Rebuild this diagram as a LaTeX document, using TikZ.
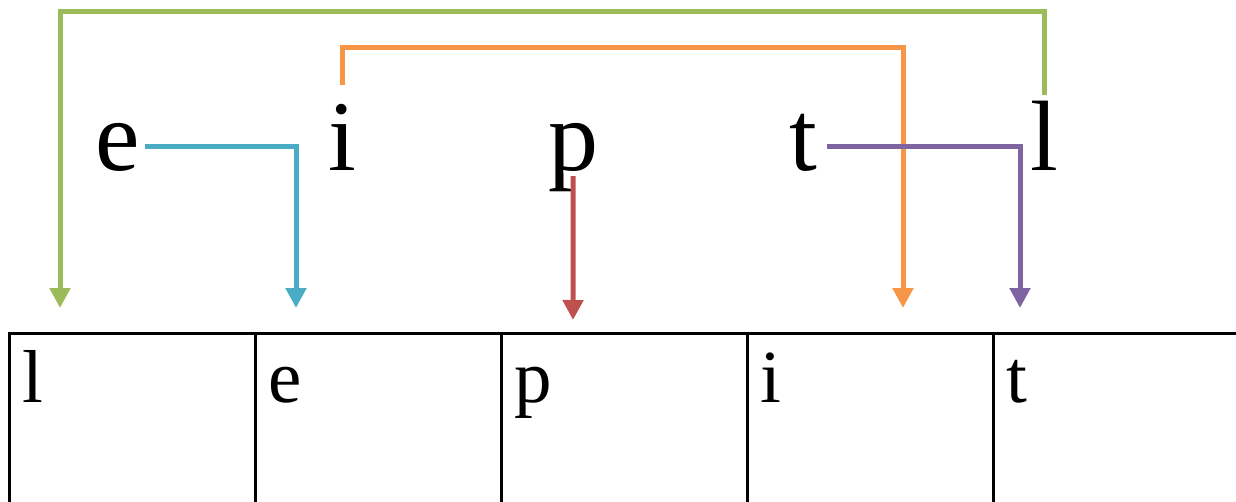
\documentclass[tikz,border=0pt]{standalone}
\usepackage{fontspec}
\setmainfont{Liberation Serif}
\usepackage{tikz}
\usetikzlibrary{arrows.meta, positioning, calc}
\definecolor{grn}{HTML}{9BBB59}
\definecolor{blu}{HTML}{4BACC6}
\definecolor{org}{HTML}{F79646}
\definecolor{pur}{HTML}{8064A2}
\definecolor{rd}{HTML}{C0504D}

\begin{document}
\begin{tikzpicture}[x=1pt, y=-1pt]
\tikzstyle{letter} = [inner sep=0pt, anchor=base west, font=\fontsize{100}{120}\selectfont]
\tikzstyle{cell} = [rectangle, draw=black, line width=2.5pt, minimum width=246pt, minimum height=230pt, anchor=north west, inner sep=0pt]
\tikzstyle{entry} = [inner sep=0pt, anchor=base west, font=\fontsize{75}{90}\selectfont]
\tikzstyle{arrow} = [line width=5pt, -{Triangle[length=20pt,width=20pt]}]

\useasboundingbox (0,0) rectangle (1236,501);

% scrambled letters
\node (e) [letter] at (95,170) {e};
\node (i) [letter] at (328,170) {i};
\node (p) [letter] at (548,170) {p};
\node (t) [letter] at (789,170) {t};
\node (l) [letter] at (1030,170) {l};

% target row
\foreach \x/\ch [count=\k] in {8/l,254/e,500/p,746/i,992/t} {
  \node (c\k) [cell] at (\x,332) {};
  \node (s\k) [entry] at (\x+14,402) {\ch};
}

\coordinate (tl) at (60,308);
\coordinate (te) at (296,308);
\coordinate (tp) at (573,320);
\coordinate (ti) at (903,308);
\coordinate (tt) at (1020,308);

\draw [arrow, grn] ([yshift=5pt]l.north) -- ++(0,-84) -| (tl);
\draw [arrow, org] ([yshift=19pt]i.north) -- ++(0,-37) -| (ti);
\draw [arrow, blu] ([xshift=5pt]e.east) -| (te);
\draw [arrow, pur] ($(t.east |- e.east)+(10,0)$) -| (tt);
\draw [arrow, rd] ([yshift=-6pt]p.base) -- (tp);

\end{tikzpicture}
\end{document}
